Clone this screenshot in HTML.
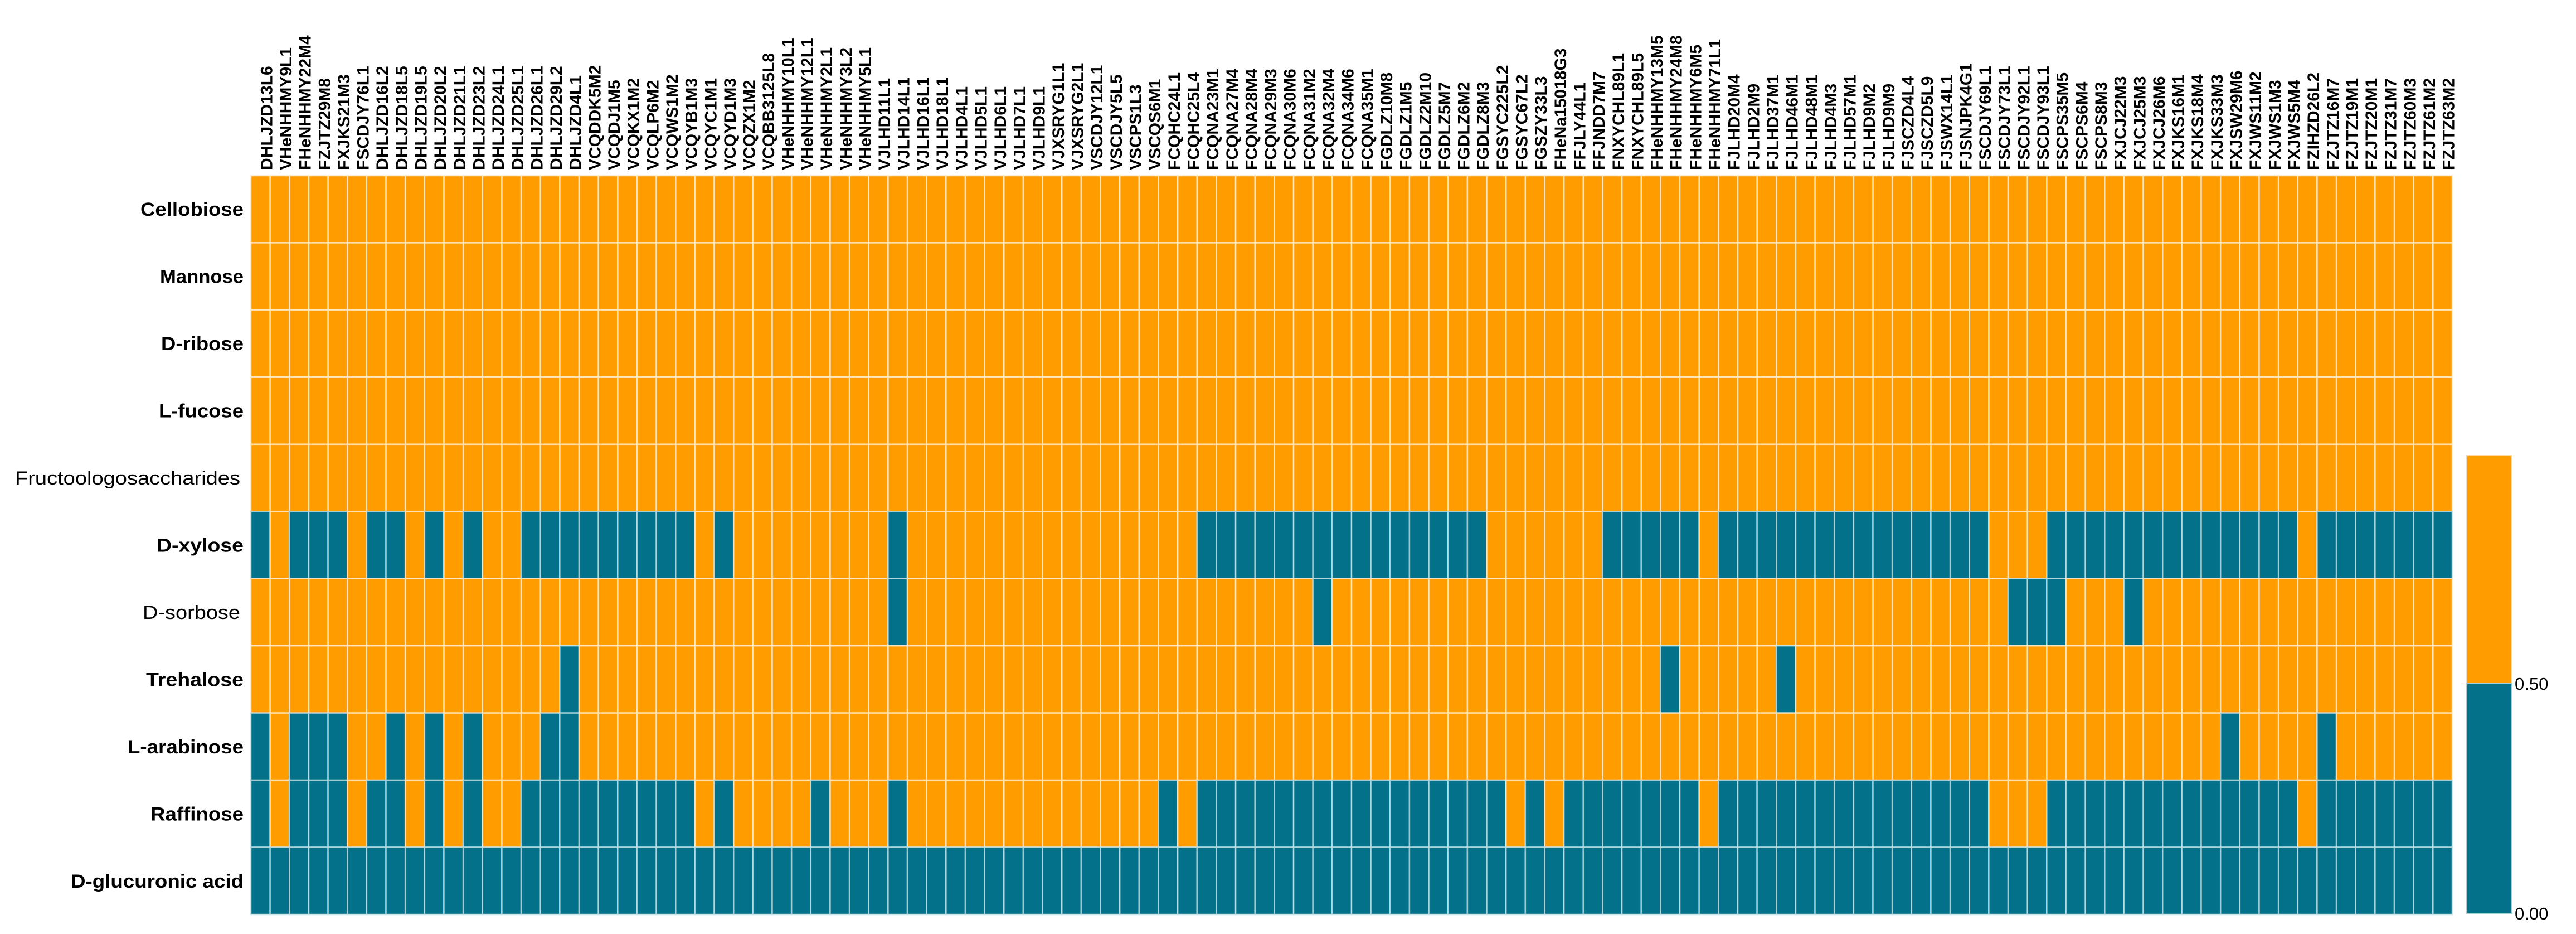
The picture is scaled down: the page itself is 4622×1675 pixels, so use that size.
<!DOCTYPE html>
<html><head><meta charset="utf-8"><style>
html,body{margin:0;padding:0;background:#fff}
svg{display:block}
text{font-family:"Liberation Sans",Arial,sans-serif}
</style></head><body>
<svg id="chart" width="4622" height="1675" viewBox="0 0 4622 1675" xmlns="http://www.w3.org/2000/svg">
<g id="cells"></g>
<g id="collabels"></g>
<g id="rowlabels"></g>
<g id="legend">
  <rect x="4426" y="817" width="81" height="409" fill="#FF9C00" stroke="#ffd9a0" stroke-width="2"/>
  <rect x="4426" y="1226" width="81" height="412" fill="#037189" stroke="#9fd0d9" stroke-width="2"/>
  <text x="4512" y="1237" font-size="31" fill="#000">0.50</text>
  <text x="4512" y="1649" font-size="31" fill="#000">0.00</text>
</g>
</svg>
<script>
const columns = ["DHLJZD13L6","VHeNHHMY9L1","FHeNHHMY22M4","FZJTZ29M8","FXJKS21M3","FSCDJY76L1","DHLJZD16L2","DHLJZD18L5","DHLJZD19L5","DHLJZD20L2","DHLJZD21L1","DHLJZD23L2","DHLJZD24L1","DHLJZD25L1","DHLJZD26L1","DHLJZD29L2","DHLJZD4L1","VCQDDK5M2","VCQDJ1M5","VCQKX1M2","VCQLP6M2","VCQWS1M2","VCQYB1M3","VCQYC1M1","VCQYD1M3","VCQZX1M2","VCQBB3125L8","VHeNHHMY10L1","VHeNHHMY12L1","VHeNHHMY2L1","VHeNHHMY3L2","VHeNHHMY5L1","VJLHD11L1","VJLHD14L1","VJLHD16L1","VJLHD18L1","VJLHD4L1","VJLHD5L1","VJLHD6L1","VJLHD7L1","VJLHD9L1","VJXSRYG1L1","VJXSRYG2L1","VSCDJY12L1","VSCDJY5L5","VSCPS1L3","VSCQS6M1","FCQHC24L1","FCQHC25L4","FCQNA23M1","FCQNA27M4","FCQNA28M4","FCQNA29M3","FCQNA30M6","FCQNA31M2","FCQNA32M4","FCQNA34M6","FCQNA35M1","FGDLZ10M8","FGDLZ1M5","FGDLZ2M10","FGDLZ5M7","FGDLZ6M2","FGDLZ8M3","FGSYC225L2","FGSYC67L2","FGSZY33L3","FHeNa15018G3","FFJLY44L1","FFJNDD7M7","FNXYCHL89L1","FNXYCHL89L5","FHeNHHMY13M5","FHeNHHMY24M8","FHeNHHMY6M5","FHeNHHMY71L1","FJLHD20M4","FJLHD2M9","FJLHD37M1","FJLHD46M1","FJLHD48M1","FJLHD4M3","FJLHD57M1","FJLHD9M2","FJLHD9M9","FJSCZD4L4","FJSCZD5L9","FJSWX14L1","FJSNJPK4G1","FSCDJY69L1","FSCDJY73L1","FSCDJY92L1","FSCDJY93L1","FSCPS35M5","FSCPS6M4","FSCPS8M3","FXJCJ22M3","FXJCJ25M3","FXJCJ26M6","FXJKS16M1","FXJKS18M4","FXJKS33M3","FXJSW29M6","FXJWS11M2","FXJWS1M3","FXJWS5M4","FZIHZD26L2","FZJTZ16M7","FZJTZ19M1","FZJTZ20M1","FZJTZ31M7","FZJTZ60M3","FZJTZ61M2","FZJTZ63M2"];
const rows = ["Cellobiose","Mannose","D-ribose","L-fucose","Fructoologosaccharides","D-xylose","D-sorbose","Trehalose","L-arabinose","Raffinose","D-glucuronic acid"];
const rowBold = [1,1,1,1,0,1,0,1,1,1,1];
const rowLabelWidth = [185,150,148,152,404,156,175,175,208,167,310];
const ALL1 = "1".repeat(114), ALL0 = "0".repeat(114);
const valCellobiose = ALL1;
const valMannose = ALL1;
const valRibose = ALL1;
const valFucose = ALL1;
const valFructo = ALL1;
const valXylose = "0100010010"+"1011000000"+"0001011111"+"1110111111"+"1111111110"+"0000000000"+"0000111111"+"0000010000"+"0000000000"+"1110000000"+"0000001000"+"0000";
const valSorbose = "1111111111"+"1111111111"+"1111111111"+"1110111111"+"1111111111"+"1111101111"+"1111111111"+"1111111111"+"1111111111"+"1000111011"+"1111111111"+"1111";
const valTrehalose = "1111111111"+"1111110111"+"1111111111"+"1111111111"+"1111111111"+"1111111111"+"1111111111"+"1110111110"+"1111111111"+"1111111111"+"1111111111"+"1111";
const valArabinose = "0100011010"+"1011100111"+"1111111111"+"1111111111"+"1111111111"+"1111111111"+"1111111111"+"1111111111"+"1111111111"+"1111111111"+"1101111011"+"1111";
const valRaffinose = "0100010010"+"1011000000"+"0001011110"+"1110111111"+"1111111010"+"0000000000"+"0000010100"+"0000010000"+"0000000000"+"1110000000"+"0000001000"+"0000";
const valGlucuronic = ALL0;
const seriesValues = [valCellobiose,valMannose,valRibose,valFucose,valFructo,valXylose,valSorbose,valTrehalose,valArabinose,valRaffinose,valGlucuronic];

const NS = "http://www.w3.org/2000/svg";
const X0 = 450, X1 = 4400, Y0 = 315, Y1 = 1640;
const cw = (X1 - X0) / columns.length, rh = (Y1 - Y0) / rows.length;
function xScale(i){ return X0 + i * cw; }
function yScale(j){ return Y0 + j * rh; }
function color(v){ return v >= 0.5 ? "#FF9C00" : "#037189"; }

const cells = document.getElementById("cells");
rows.forEach((r, j) => {
  const s = seriesValues[j];
  columns.forEach((c, i) => {
    const v = Number(s[i]);
    const el = document.createElementNS(NS, "rect");
    el.setAttribute("x", xScale(i)); el.setAttribute("y", yScale(j));
    el.setAttribute("width", cw); el.setAttribute("height", rh);
    el.setAttribute("fill", color(v));
    el.setAttribute("stroke", v >= 0.5 ? "rgba(255,235,200,0.85)" : "rgba(190,225,232,0.8)");
    el.setAttribute("stroke-width", "2.5");
    
    
    cells.appendChild(el);
  });
});

const cl = document.getElementById("collabels");
columns.forEach((c, i) => {
  const cx = xScale(i) + cw / 2 + 21;
  const t = document.createElementNS(NS, "text");
  t.setAttribute("transform", "translate(" + cx + ",305) rotate(-90)");
  t.setAttribute("font-size", "30");
  t.setAttribute("font-weight", "bold");
  t.textContent = c;
  
  
  cl.appendChild(t);
});

const rl = document.getElementById("rowlabels");
rows.forEach((r, j) => {
  const t = document.createElementNS(NS, "text");
  const right = rowBold[j] ? 437 : 431;
  t.setAttribute("x", right);
  t.setAttribute("y", yScale(j) + rh / 2 + 12);
  t.setAttribute("text-anchor", "end");
  t.setAttribute("font-size", "34");
  if (rowBold[j]) t.setAttribute("font-weight", "bold");
  t.setAttribute("textLength", rowLabelWidth[j]);
  t.setAttribute("lengthAdjust", "spacingAndGlyphs");
  t.textContent = r;
  
  
  rl.appendChild(t);
});
</script>
</body></html>
